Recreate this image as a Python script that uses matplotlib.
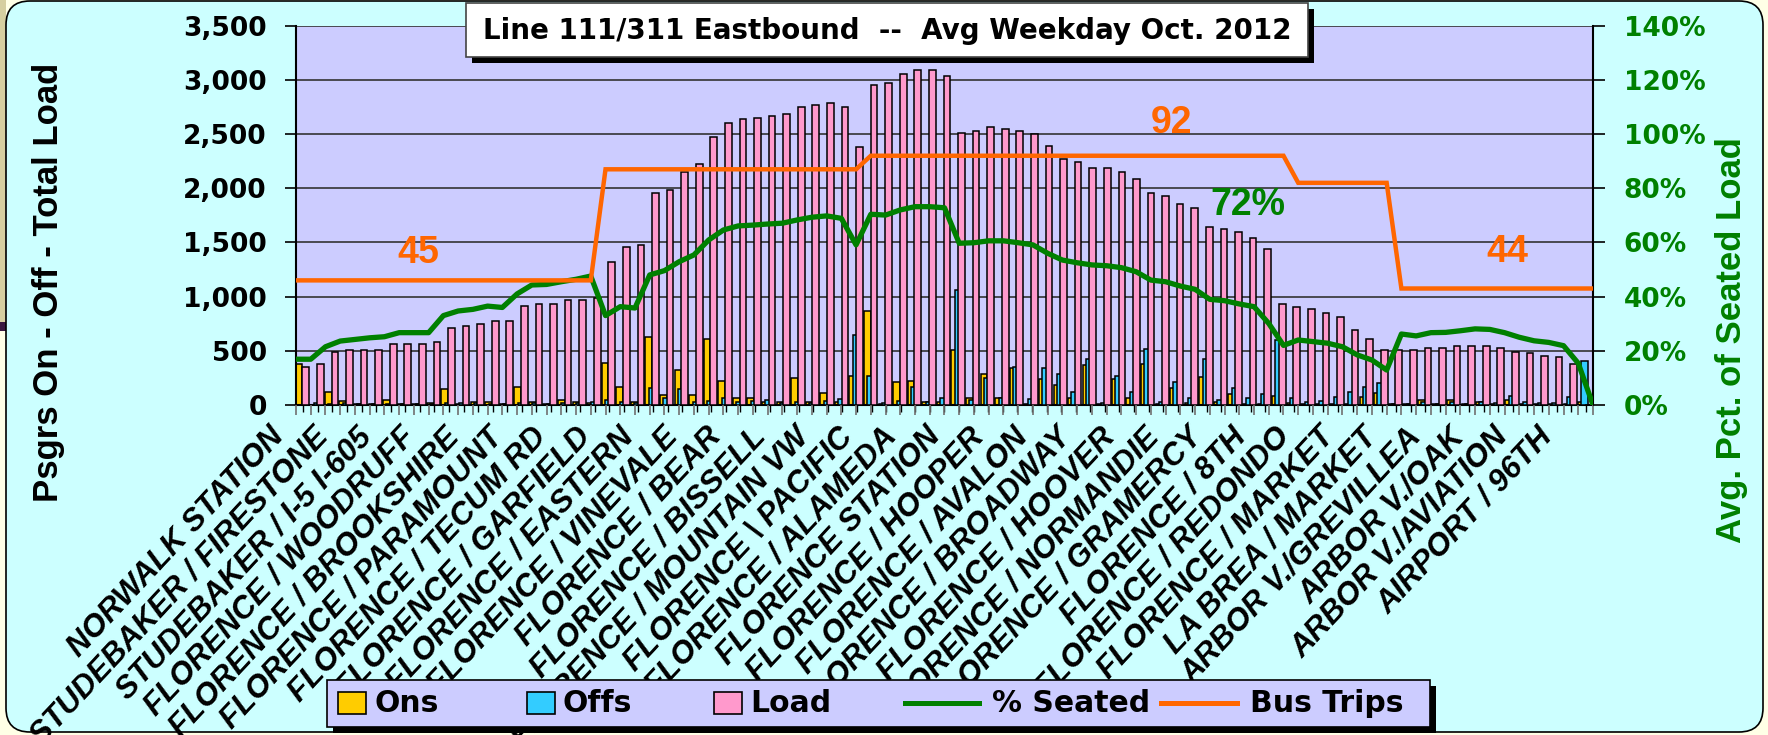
import numpy as np
import matplotlib
matplotlib.use("Agg")
import matplotlib.pyplot as plt
import matplotlib.transforms as mtransforms
from matplotlib.patches import FancyBboxPatch, Rectangle
from matplotlib.lines import Line2D

plt.rcParams['font.family'] = ['DejaVu Sans']

# ---- data --------------------------------------------------------------
stops = ["NORWALK STATION", "STUDEBAKER / FIRESTONE", "STUDEBAKER / I-5 I-605",
         "FLORENCE / WOODRUFF", "FLORENCE / BROOKSHIRE", "FLORENCE / PARAMOUNT",
         "FLORENCE / TECUM RD", "FLORENCE / GARFIELD", "FLORENCE / EASTERN",
         "FLORENCE / VINEVALE", "FLORENCE / BEAR", "FLORENCE / BISSELL",
         "FLORENCE / MOUNTAIN VW", "FLORENCE \\ PACIFIC", "FLORENCE / ALAMEDA",
         "FLORENCE STATION", "FLORENCE / HOOPER", "FLORENCE / AVALON",
         "FLORENCE / BROADWAY", "FLORENCE / HOOVER", "FLORENCE / NORMANDIE",
         "FLORENCE / GRAMERCY", "FLORENCE / 8TH", "FLORENCE / REDONDO",
         "FLORENCE / MARKET", "LA BREA / MARKET", "ARBOR V./GREVILLEA",
         "ARBOR V./OAK", "ARBOR V./AVIATION", "AIRPORT / 96TH"]

load = [353, 375, 492, 507, 507, 507, 560, 560, 560, 578,
        714, 729, 747, 778, 778, 917, 932, 932, 969, 969,
        984, 1323, 1461, 1476, 1953, 1984, 2153, 2224, 2476, 2599,
        2636, 2651, 2667, 2685, 2753, 2768, 2784, 2753, 2384, 2953,
        2974, 3054, 3091, 3091, 3036, 2513, 2528, 2562, 2547, 2528,
        2498, 2393, 2267, 2239, 2190, 2190, 2153, 2086, 1953, 1932,
        1852, 1815, 1646, 1627, 1593, 1544, 1443, 932, 901, 883,
        846, 815, 692, 609, 508, 508, 508, 523, 523, 544,
        544, 544, 523, 492, 477, 455, 440, 375, 0]

ons = [375, 0, 120, 35, 10, 10, 50, 5, 5, 15,
       152, 10, 31, 31, 5, 168, 31, 5, 48, 31,
       15, 390, 168, 30, 628, 94, 320, 96, 609, 218,
       65, 65, 30, 28, 252, 28, 114, 28, 270, 870,
       10, 215, 218, 31, 30, 508, 62, 286, 62, 338,
       5, 237, 185, 62, 369, 10, 237, 68, 375, 10,
       154, 15, 255, 31, 98, 10, 10, 85, 15, 5,
       5, 10, 5, 77, 108, 5, 5, 46, 5, 46,
       5, 31, 5, 46, 5, 5, 5, 5, 25]

offs = [0, 20, 5, 20, 10, 10, 10, 10, 10, 10,
        15, 15, 15, 10, 10, 20, 15, 10, 15, 20,
        30, 50, 30, 20, 154, 60, 150, 25, 40, 60,
        25, 40, 50, 20, 30, 20, 40, 55, 646, 268,
        20, 40, 169, 30, 60, 1058, 45, 250, 65, 354,
        52, 338, 286, 117, 421, 15, 268, 117, 514, 30,
        215, 60, 421, 50, 154, 60, 100, 600, 60, 30,
        40, 70, 123, 169, 206, 10, 10, 30, 10, 25,
        10, 30, 20, 83, 31, 20, 20, 70, 406]

# % seated load (secondary axis, percent)
seated = [16.9, 16.9, 21.5, 23.6, 24.2, 24.8, 25.2, 26.7, 26.7, 26.7,
          33.0, 34.7, 35.3, 36.5, 36.0, 41.0, 44.3, 44.5, 45.5, 46.4,
          47.6, 33.0, 36.3, 35.8, 48.0, 49.6, 52.9, 55.4, 60.9, 64.6,
          66.1, 66.4, 66.8, 67.1, 68.3, 69.3, 69.8, 68.9, 59.1, 70.4,
          70.1, 72.0, 73.2, 73.2, 72.8, 59.7, 59.9, 60.6, 60.6, 59.9,
          59.1, 56.0, 53.5, 52.5, 51.7, 51.4, 50.7, 49.2, 46.1, 45.5,
          43.9, 42.7, 39.0, 38.5, 37.3, 36.3, 30.1, 22.0, 24.0, 23.4,
          22.8, 21.5, 18.5, 16.6, 12.9, 26.2, 25.5, 26.7, 26.8, 27.4,
          28.1, 27.9, 26.7, 25.0, 23.7, 23.1, 21.9, 15.4, 0.0]

# bus trips, drawn on the percent axis (1 trip = 1%)
trips = [46, 46, 46, 46, 46, 46, 46, 46, 46, 46,
         46, 46, 46, 46, 46, 46, 46, 46, 46, 46,
         46, 87, 87, 87, 87, 87, 87, 87, 87, 87,
         87, 87, 87, 87, 87, 87, 87, 87, 87, 92,
         92, 92, 92, 92, 92, 92, 92, 92, 92, 92,
         92, 92, 92, 92, 92, 92, 92, 92, 92, 92,
         92, 92, 92, 92, 92, 92, 92, 92, 82, 82,
         82, 82, 82, 82, 82, 43, 43, 43, 43, 43,
         43, 43, 43, 43, 43, 43, 43, 43, 43]

N = len(load)
labels = [""] * N
labels[::3] = stops

C_ONS, C_OFFS, C_LOAD = "#FFCC00", "#33CCFF", "#FF99CC"
C_GREEN, C_ORANGE = "#008000", "#FF6600"

# ---- figure -------------------------------------------------------------
W, H, DPI = 1768, 735, 100
fig = plt.figure(figsize=(W / DPI, H / DPI), dpi=DPI)
fig.patch.set_facecolor("#FFFFE6")
px = mtransforms.IdentityTransform()


def px_rect(x, y_top, w, h, **kw):
    return Rectangle((x, H - y_top - h), w, h, transform=px, **kw)


fig.add_artist(px_rect(0, 0, 6, 322, fc="#D6CFA0", ec="none", zorder=-3))
fig.add_artist(px_rect(0, 322, 6, 9, fc="#3A1840", ec="none", zorder=-3))
fig.add_artist(FancyBboxPatch((6, 3), 1757, 731, boxstyle="round,pad=0,rounding_size=24",
                              transform=px, fc="#CCFFFF", ec="black", lw=1.2, zorder=-2))

L, R, T, B = 296, 1593, 25.7, 405
ax = fig.add_axes([L / W, 1 - B / H, (R - L) / W, (B - T) / H])
ax.set_facecolor("#CCCCFF")
ax2 = fig.add_axes(ax.get_position(), frameon=False, label="lines")

x = np.arange(N)
bw = 0.46
ax.bar(x + 0.21, ons, width=bw, color=C_ONS, edgecolor="black", lw=1.1, zorder=2)
ax.bar(x + 0.44, offs, width=bw, color=C_OFFS, edgecolor="black", lw=1.1, zorder=3)
ax.bar(x + 0.67, load, width=bw, color=C_LOAD, edgecolor="black", lw=1.1, zorder=4)

ax.set_xlim(0, N)
ax.set_ylim(0, 3500)
yt = list(range(0, 3501, 500))
ax.set_yticks(yt, labels=[f"{v:,}" for v in yt], fontsize=19, fontweight="bold")
ax.tick_params(axis="y", length=8, width=1.2, pad=13)
ax.yaxis.grid(True, color="#333333", lw=1.2)
ax.set_axisbelow(True)
ax.spines["top"].set_visible(False)
for s in ("left", "bottom", "right"):
    ax.spines[s].set_linewidth(1.5)

ax.set_xticks(x + 0.5)
ax.set_xticklabels(labels, rotation=47, ha="right", va="top", rotation_mode="anchor",
                   fontsize=22.5, fontweight="bold", fontstyle="italic",
                   family="Liberation Sans")
ax.tick_params(axis="x", length=5, width=1, pad=2)
shift = mtransforms.ScaledTranslation(-25 / 72, -5 / 72, fig.dpi_scale_trans)
for lbl in ax.get_xticklabels():
    lbl.set_transform(lbl.get_transform() + shift)

# secondary axes for the two lines
ax2.plot(x, np.array(seated) / 100, color=C_GREEN, lw=3.8,
         solid_joinstyle="round", solid_capstyle="round", zorder=3)
ax2.plot(x, np.array(trips) / 100, color=C_ORANGE, lw=3.2,
         solid_joinstyle="miter", solid_capstyle="round", zorder=4)
ax2.set_xlim(0, N - 1)
ax2.set_ylim(0, 1.4)
pt = np.arange(0, 1.41, 0.2)
ax2.set_yticks(pt, labels=[f"{int(round(v * 100))}%" for v in pt],
               fontsize=19, fontweight="bold")
ax2.yaxis.tick_right()
ax2.tick_params(axis="y", length=8.6, width=1.2, pad=13.5, labelcolor=C_GREEN, color="black")
ax2.set_xticks(x)
ax2.tick_params(axis="x", length=7, width=1.2, color="#707070", labelbottom=False)

note = dict(fontsize=27, fontweight="bold", family="Liberation Sans",
            ha="center", va="center", zorder=6)
ax.text(8.4, 1405, "45", color=C_ORANGE, **note)
ax.text(60.05, 2600, "92", color=C_ORANGE, **note)
ax.text(83.1, 1415, "44", color=C_ORANGE, **note)
ax.text(65.3, 1850, "72%", color=C_GREEN, **note)

# axis titles
fig.text(49, H - 282, "Psgrs On - Off - Total Load", transform=px, rotation=90,
         ha="center", va="center", fontsize=25, fontweight="bold", family="Liberation Sans")
fig.text(1731, H - 340, "Avg. Pct. of Seated Load", transform=px, rotation=90,
         ha="center", va="center", fontsize=25, fontweight="bold",
         family="Liberation Sans", color=C_GREEN)

# title box with shadow
fig.add_artist(px_rect(472, 9, 842, 54, fc="black", ec="none", zorder=5))
fig.add_artist(px_rect(466, 3, 842, 54, fc="white", ec="#444444", lw=1.2, zorder=6))
fig.text(887, H - 31, "Line 111/311 Eastbound  --  Avg Weekday Oct. 2012", transform=px,
         ha="center", va="center", fontsize=20, fontweight="bold", zorder=7)

# legend box with shadow
fig.add_artist(px_rect(333, 686, 1103, 47, fc="black", ec="none", zorder=5))
fig.add_artist(px_rect(327, 680, 1103, 47, fc="#CCCCFF", ec="black", lw=1.2, zorder=6))
ly = 703
for name, color, x0 in [("Ons", C_ONS, 338), ("Offs", C_OFFS, 527), ("Load", C_LOAD, 714)]:
    fig.add_artist(px_rect(x0, ly - 11, 28, 22, fc=color, ec="black", lw=1.2, zorder=7))
    fig.text(x0 + 36, H - ly, name, transform=px, ha="left", va="center",
             fontsize=21.5, fontweight="bold", zorder=7)
for name, color, x0, x1 in [("% Seated", C_GREEN, 905, 979), ("Bus Trips", C_ORANGE, 1161, 1237)]:
    fig.add_artist(Line2D([x0, x1], [H - ly, H - ly], transform=px, color=color, lw=3.6, zorder=7))
    fig.text(x1 + 13, H - ly, name, transform=px, ha="left", va="center",
             fontsize=21.5, fontweight="bold", zorder=7)

fig.savefig("out.png", dpi=DPI, facecolor=fig.get_facecolor())
